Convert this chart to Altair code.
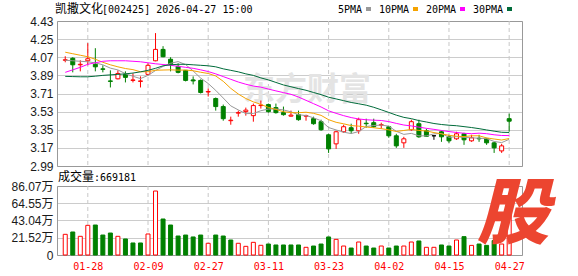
import altair as alt
import pandas as pd

# ---------------- data ----------------
dates = ["01-23","01-26","01-27","01-28","01-29","01-30","02-02","02-03","02-04","02-05",
         "02-06","02-09","02-10","02-11","02-12","02-13","02-24","02-25","02-26","02-27",
         "03-02","03-03","03-04","03-05","03-06","03-09","03-10","03-11","03-12","03-13",
         "03-16","03-17","03-18","03-19","03-20","03-23","03-24","03-25","03-26","03-27",
         "03-30","03-31","04-01","04-02","04-03","04-07","04-08","04-09","04-10","04-13",
         "04-14","04-15","04-16","04-17","04-20","04-21","04-22","04-23","04-24","04-27"]
opens = [4.04, 4.06, 3.995, 4.035, 4.0, 3.955, 3.835, 3.856, 3.90, 3.84,
         3.83, 3.90, 4.035, 4.148, 4.05, 3.98, 3.94, 3.845, 3.84, 3.725,
         3.66, 3.58, 3.44, 3.515, 3.53, 3.49, 3.59, 3.60, 3.57, 3.52,
         3.485, 3.50, 3.485, 3.46, 3.43, 3.30, 3.21, 3.33, 3.37, 3.34,
         3.415, 3.42, 3.395, 3.38, 3.29, 3.22, 3.35, 3.41, 3.34, 3.29,
         3.33, 3.28, 3.26, 3.31, 3.24, 3.265, 3.26, 3.22, 3.14, 3.46]
closes = [4.045, 3.995, 4.0, 4.055, 3.975, 3.95, 3.83, 3.909, 3.87, 3.845,
          3.835, 3.99, 4.148, 4.075, 4.0, 3.92, 3.84, 3.835, 3.72, 3.73,
          3.58, 3.46, 3.445, 3.52, 3.545, 3.59, 3.595, 3.53, 3.52, 3.50,
          3.495, 3.45, 3.49, 3.41, 3.35, 3.16, 3.33, 3.38, 3.34, 3.45,
          3.41, 3.38, 3.40, 3.29, 3.19, 3.26, 3.43, 3.28, 3.285, 3.29,
          3.28, 3.24, 3.31, 3.25, 3.27, 3.26, 3.22, 3.17, 3.19, 3.435]
highs = [4.08, 4.07, 4.04, 4.21, 4.16, 3.99, 3.94, 3.94, 3.93, 3.91,
         3.88, 4.01, 4.31, 4.18, 4.07, 4.01, 3.94, 3.88, 3.85, 3.76,
         3.67, 3.60, 3.48, 3.54, 3.57, 3.61, 3.64, 3.61, 3.61, 3.58,
         3.54, 3.54, 3.50, 3.48, 3.45, 3.31, 3.34, 3.40, 3.41, 3.47,
         3.46, 3.46, 3.42, 3.39, 3.31, 3.28, 3.45, 3.45, 3.36, 3.29,
         3.34, 3.30, 3.33, 3.32, 3.30, 3.30, 3.27, 3.23, 3.21, 3.51]
lows = [4.02, 3.92, 3.93, 3.99, 3.93, 3.92, 3.77, 3.85, 3.82, 3.82,
        3.77, 3.89, 4.03, 4.07, 3.93, 3.91, 3.83, 3.80, 3.71, 3.68,
        3.54, 3.44, 3.40, 3.48, 3.49, 3.43, 3.56, 3.52, 3.51, 3.49,
        3.48, 3.44, 3.44, 3.40, 3.34, 3.12, 3.16, 3.32, 3.31, 3.31,
        3.37, 3.37, 3.36, 3.27, 3.17, 3.17, 3.34, 3.27, 3.28, 3.25,
        3.23, 3.22, 3.25, 3.20, 3.23, 3.23, 3.20, 3.12, 3.12, 3.33]
# volume in 万 (10k shares)
volumes = [25.8, 28.7, 23.3, 37.0, 37.4, 24.9, 27.4, 23.3, 20.0, 15.0,
           15.0, 26.2, 79.8, 44.9, 37.4, 23.7, 24.9, 22.5, 24.9, 14.6,
           24.9, 23.7, 18.7, 14.6, 10.8, 15.8, 12.1, 13.7, 12.5, 12.5,
           12.5, 12.5, 9.6, 11.2, 13.7, 22.5, 19.5, 11.2, 8.7, 16.2,
           11.2, 8.7, 11.2, 8.7, 11.2, 11.2, 16.2, 17.5, 9.6, 9.6,
           12.5, 11.2, 18.7, 22.9, 12.0, 13.7, 12.0, 18.0, 13.7, 66.92]
ma5 = [4.04, 4.035, 4.03, 4.025, 4.014, 3.995, 3.962, 3.944, 3.907, 3.881,
       3.858, 3.890, 3.938, 3.979, 4.010, 4.027, 3.997, 3.934, 3.863, 3.809,
       3.741, 3.665, 3.587, 3.547, 3.510, 3.512, 3.539, 3.556, 3.556, 3.547,
       3.528, 3.499, 3.491, 3.469, 3.439, 3.372, 3.348, 3.326, 3.312, 3.332,
       3.382, 3.392, 3.396, 3.386, 3.334, 3.304, 3.314, 3.290, 3.289, 3.309,
       3.313, 3.275, 3.281, 3.274, 3.270, 3.266, 3.262, 3.234, 3.222, 3.255]
ma10 = [4.12, 4.105, 4.09, 4.075, 4.05, 4.02, 3.995, 3.975, 3.958, 3.947,
        3.926, 3.926, 3.941, 3.943, 3.945, 3.942, 3.943, 3.936, 3.921, 3.909,
        3.884, 3.831, 3.761, 3.705, 3.660, 3.627, 3.602, 3.572, 3.552, 3.529,
        3.520, 3.519, 3.524, 3.513, 3.493, 3.450, 3.424, 3.409, 3.391, 3.386,
        3.377, 3.370, 3.361, 3.349, 3.333, 3.343, 3.353, 3.343, 3.338, 3.322,
        3.309, 3.295, 3.286, 3.282, 3.290, 3.290, 3.269, 3.258, 3.248, 3.263]
ma20 = [3.92, 3.945, 3.97, 4.0, 4.015, 4.03, 4.035, 4.035, 4.035, 4.03,
        4.025, 4.015, 4.005, 3.998, 3.99, 3.98, 3.97, 3.96, 3.945, 3.928,
        3.905, 3.878, 3.851, 3.824, 3.802, 3.784, 3.773, 3.754, 3.736, 3.719,
        3.702, 3.675, 3.642, 3.609, 3.576, 3.538, 3.513, 3.490, 3.471, 3.457,
        3.449, 3.445, 3.442, 3.431, 3.413, 3.397, 3.388, 3.376, 3.364, 3.354,
        3.343, 3.332, 3.323, 3.315, 3.311, 3.316, 3.311, 3.300, 3.293, 3.292]
ma30 = [3.88, 3.878, 3.876, 3.876, 3.882, 3.89, 3.895, 3.90, 3.905, 3.913,
        3.925, 3.94, 3.96, 3.985, 3.995, 4.0, 4.0, 3.995, 3.99, 3.985,
        3.975, 3.955, 3.94, 3.925, 3.905, 3.89, 3.865, 3.845, 3.82, 3.795,
        3.777, 3.759, 3.742, 3.720, 3.699, 3.673, 3.656, 3.639, 3.621, 3.608,
        3.594, 3.573, 3.548, 3.522, 3.495, 3.473, 3.460, 3.441, 3.427, 3.412,
        3.402, 3.395, 3.390, 3.381, 3.372, 3.361, 3.348, 3.336, 3.325, 3.323]

price_ticks = [2.99, 3.17, 3.35, 3.53, 3.71, 3.89, 4.07, 4.25, 4.43]
vol_ticks = [0, 21.52, 43.04, 64.55, 86.07]
date_ticks = ["01-28", "02-09", "02-27", "03-11", "03-23", "04-02", "04-15", "04-27"]

title_name = "凯撒文化"
title_rest = "[002425] 2026-04-27 15:00"
vol_label = "成交量"
vol_value = ":669181"
ma_names = ["5PMA", "10PMA", "20PMA", "30PMA"]
ma_colors = ["#999999", "#f5a300", "#ff00ff", "#006b3a"]
watermark = "东方财富"
logo = "股"

UP, DOWN, FLAT = "#ff0000", "#008000", "#000000"

# ---------------- tables ----------------
n = len(dates)
idx = list(range(n))
dirs = ["up" if c > o else ("down" if c < o else "flat") for o, c in zip(opens, closes)]
prev_close = [opens[0]] + closes[:-1]
vdirs = ["up" if c >= p else "down" for c, p in zip(closes, prev_close)]
df = pd.DataFrame(dict(i=idx, date=dates, open=opens, high=highs, low=lows,
                       close=closes, vol=volumes, dir=dirs, vdir=vdirs))
ma_df = pd.DataFrame({
    "i": idx * 4,
    "value": ma5 + ma10 + ma20 + ma30,
    "name": sum([[nm] * n for nm in ma_names], []),
})
tick_idx = [dates.index(d) for d in date_ticks]
ticks_df = pd.DataFrame({"i": tick_idx, "ptop": max(price_ticks), "pbot": min(price_ticks),
                         "vtop": max(vol_ticks), "vbot": min(vol_ticks)})

# ---------------- layout ----------------
W, H = 465, 234
PRICE_H, VOL_H = 145, 69
ptop, pbot = max(price_ticks), min(price_ticks)
pmin_dom = ptop - (ptop - pbot) * H / PRICE_H
vmax_dom = max(vol_ticks) * H / VOL_H

x_scale = alt.Scale(domain=[-0.43, n + 0.04], nice=False, zero=False)
date_js = "[" + ",".join("'%s'" % d for d in dates) + "][datum.value]"
x_axis = alt.Axis(values=tick_idx, labelExpr=date_js, title=None, grid=False, domain=False,
                  ticks=False, tickSize=0, labelFont="DejaVu Sans Mono", labelFontSize=10,
                  labelColor="#ff0000", labelPadding=11, labelBaseline="middle",
                  labelAngle=0, labelFlush=False, labelOverlap=False)


def X():
    return alt.X("i:Q", scale=x_scale, axis=x_axis)


p_scale = alt.Scale(domain=[pmin_dom, ptop], nice=False, zero=False)
p_axis = alt.Axis(values=price_ticks, format=".2f", title=None, orient="left", grid=True,
                  gridColor="#cccccc", domain=False, ticks=False, tickSize=0, labelPadding=4,
                  labelFont="Liberation Sans", labelFontSize=12, labelColor="#1a1a1a",
                  labelBaseline="middle", labelOverlap=False, labelFlush=False)


def PY(field):
    return alt.Y(field + ":Q", scale=p_scale, axis=p_axis)


v_scale = alt.Scale(domain=[0, vmax_dom], nice=False, zero=True)
v_axis = alt.Axis(values=vol_ticks,
                  labelExpr="datum.value == 0 ? '0' : format(datum.value, '.2f') + '万'",
                  title=None, orient="left", grid=True, gridColor="#cccccc", domain=False,
                  ticks=False, tickSize=0, labelPadding=4,
                  labelFont="Liberation Sans, Noto Sans CJK SC", labelFontSize=12,
                  labelColor="#1a1a1a", labelBaseline="middle", labelOverlap=False,
                  labelFlush=False)


def VY(field):
    return alt.Y(field + ":Q", scale=v_scale, axis=v_axis)


one = pd.DataFrame({"a": [0]})

fill_scale = alt.Scale(domain=["up", "down", "flat"], range=["#ffffff", DOWN, FLAT])
stroke_scale = alt.Scale(domain=["up", "down", "flat"], range=[UP, DOWN, FLAT])

# ---- price panel ----
p_border = alt.Chart(one).mark_rect(fillOpacity=0, stroke="#999999", strokeWidth=1).encode(
    x=alt.value(0.5), x2=alt.value(W + 0.5), y=alt.value(0.5), y2=alt.value(PRICE_H + 0.5))
p_vlines = alt.Chart(ticks_df).mark_rule(strokeDash=[4, 3], color="#c8c8c8", strokeWidth=1).encode(
    x=X(), y=PY("ptop"), y2="pbot:Q")
wm = alt.Chart(pd.DataFrame({"t": [watermark]})).mark_text(
    font="Noto Sans CJK SC", fontSize=32, fontWeight="bold", color="#e4e4e4",
    align="center", baseline="middle").encode(x=alt.value(250), y=alt.value(69), text="t:N")
wicks = alt.Chart(df).mark_rule(strokeWidth=1).encode(
    x=X(), y=PY("low"), y2="high:Q",
    stroke=alt.Stroke("dir:N", scale=stroke_scale, legend=None))
bodies = alt.Chart(df).mark_bar(width=4, strokeWidth=1).encode(
    x=X(), y=PY("open"), y2="close:Q",
    fill=alt.Fill("dir:N", scale=fill_scale, legend=None),
    stroke=alt.Stroke("dir:N", scale=stroke_scale, legend=None))
ma_lines = alt.Chart(ma_df).mark_line(strokeWidth=1).encode(
    x=X(), y=PY("value"),
    color=alt.Color("name:N", scale=alt.Scale(domain=ma_names, range=ma_colors), legend=None),
    detail="name:N")

texts = []
texts.append(alt.Chart(pd.DataFrame({"t": [title_name]})).mark_text(
    font="Noto Sans CJK SC", fontSize=12, color="#000000", align="left",
    baseline="alphabetic").encode(x=alt.value(-2), y=alt.value(-8), text="t:N"))
texts.append(alt.Chart(pd.DataFrame({"t": [title_rest]})).mark_text(
    font="DejaVu Sans Mono", fontSize=10, color="#000000", align="left",
    baseline="alphabetic").encode(x=alt.value(45), y=alt.value(-8), text="t:N"))
texts.append(alt.Chart(pd.DataFrame({"t": [vol_label]})).mark_text(
    font="Noto Sans CJK SC", fontSize=12, color="#000000", align="left",
    baseline="alphabetic").encode(x=alt.value(1), y=alt.value(160), text="t:N"))
texts.append(alt.Chart(pd.DataFrame({"t": [vol_value]})).mark_text(
    font="DejaVu Sans Mono", fontSize=10, color="#000000", align="left",
    baseline="alphabetic").encode(x=alt.value(37), y=alt.value(160), text="t:N"))

cur = 281
for nm, col in zip(ma_names, ma_colors):
    texts.append(alt.Chart(pd.DataFrame({"t": [nm]})).mark_text(
        font="DejaVu Sans Mono", fontSize=10, color="#000000", align="left",
        baseline="alphabetic").encode(x=alt.value(cur), y=alt.value(-8), text="t:N"))
    sq = cur + 6 * len(nm) + 4
    texts.append(alt.Chart(one).mark_rect(color=col).encode(
        x=alt.value(sq), x2=alt.value(sq + 5), y=alt.value(-14), y2=alt.value(-10)))
    cur = sq + 5 + 8

price_group = alt.layer(p_border, p_vlines, wm, wicks, bodies, ma_lines, *texts)

# ---- volume panel ----
v_border = alt.Chart(one).mark_rect(fillOpacity=0, stroke="#999999", strokeWidth=1).encode(
    x=alt.value(0.5), x2=alt.value(W + 0.5), y=alt.value(H - VOL_H + 0.5), y2=alt.value(H + 0.5))
v_vlines = alt.Chart(ticks_df).mark_rule(strokeDash=[4, 3], color="#c8c8c8", strokeWidth=1).encode(
    x=X(), y=VY("vtop"), y2="vbot:Q")
vbars = alt.Chart(df).mark_bar(width=4, strokeWidth=1).encode(
    x=X(), y=VY("vol"),
    fill=alt.Fill("vdir:N", scale=fill_scale, legend=None),
    stroke=alt.Stroke("vdir:N", scale=stroke_scale, legend=None))
logo_mark = alt.Chart(pd.DataFrame({"t": [logo]})).mark_text(
    font="Noto Sans CJK SC", fontSize=72, fontWeight=900, fontStyle="italic",
    color="#ec4530", align="center", baseline="middle").encode(
    x=alt.value(456), y=alt.value(195), text="t:N")

vol_group = alt.layer(v_border, v_vlines, vbars, logo_mark)

chart = alt.layer(price_group, vol_group).resolve_scale(
    y="independent", color="independent", fill="independent", stroke="independent"
).properties(
    width=W, height=H,
    padding={"left": 57, "top": 21, "right": 56, "bottom": 21},
    autosize=alt.AutoSizeParams(type="none"),
    background="#ffffff",
).configure_view(strokeWidth=0)

chart.save("out.html", embed_options={"renderer": "svg", "actions": False})
